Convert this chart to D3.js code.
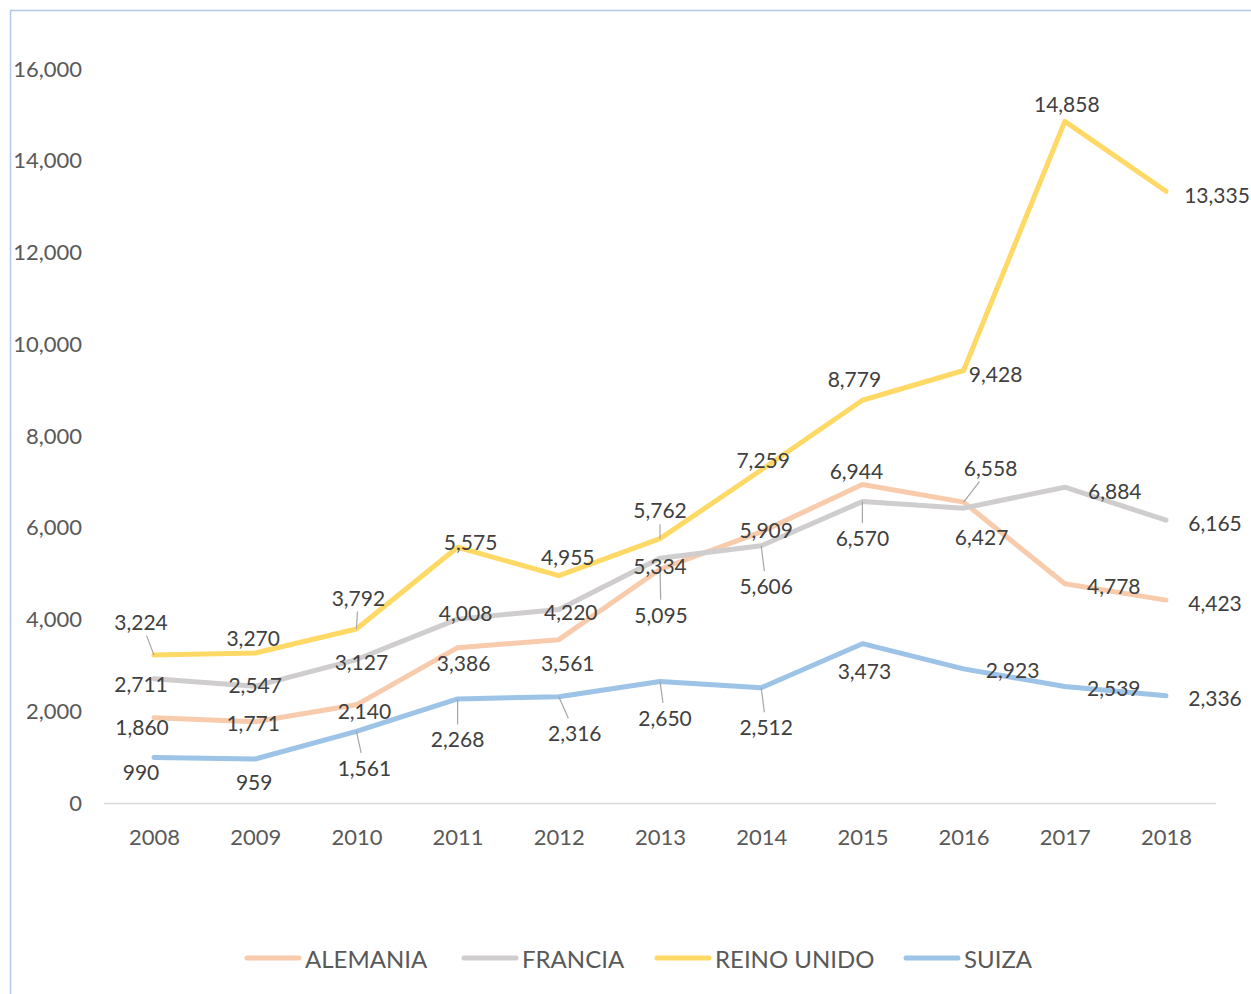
<!DOCTYPE html>
<html>
<head>
<meta charset="utf-8">
<title>Lines</title>
<script src="https://cdn.jsdelivr.net/npm/d3@7"></script>
<style>
	body { margin: 0; background: #fff; }
	svg { display: block; font-family: Lato, "Open Sans", sans-serif; }
</style>
</head>
<body>
<svg width="1251" height="994" class="chart"></svg>
<script>
// data
var years = [2008, 2009, 2010, 2011, 2012, 2013, 2014, 2015, 2016, 2017, 2018]
var alemania = [1860, 1771, 2140, 3386, 3561, 5095, 5909, 6944, 6558, 4778, 4423]
var francia = [2711, 2547, 3127, 4008, 4220, 5334, 5606, 6570, 6427, 6884, 6165]
var reinoUnido = [3224, 3270, 3792, 5575, 4955, 5762, 7259, 8779, 9428, 14858, 13335]
var suiza = [990, 959, 1561, 2268, 2316, 2650, 2512, 3473, 2923, 2539, 2336]
var seriesNames = ['ALEMANIA', 'FRANCIA', 'REINO UNIDO', 'SUIZA']
var yTicks = [0, 2000, 4000, 6000, 8000, 10000, 12000, 14000, 16000]

// label placement, offsets from the point: [dx, dy, leader]
var labelPos = {
	'ALEMANIA': [[-12,9,0],[-2,1,0],[8,6,0],[6,15,0],[9,23,0],[1,45,1],[5,-2,0],[-6,-14,0],[27,-35,1],[49,2,0],[49,2,0]],
	'FRANCIA': [[-13,5,0],[0,-2,0],[5,2,0],[8,-7,0],[12,2,0],[0,7,0],[5,40,1],[0,36,1],[18,28,0],[50,3,0],[49,2,0]],
	'REINO UNIDO': [[-13,-34,1],[-2,-15,0],[2,-32,1],[13,-6,0],[9,-19,0],[0,-29,1],[2,-10,0],[-8,-22,0],[32,3,0],[2,-18,0],[51,3,0]],
	'SUIZA': [[-13,14,0],[-1,22,0],[8,36,1],[0,40,1],[16,36,1],[5,36,1],[5,39,1],[2,27,0],[49,1,0],[49,1,0],[49,2,0]]
}

var colors = { 'ALEMANIA': '#F8CBAD', 'FRANCIA': '#CFCDCD', 'REINO UNIDO': '#FFD966', 'SUIZA': '#9DC3E6' }
var values = { 'ALEMANIA': alemania, 'FRANCIA': francia, 'REINO UNIDO': reinoUnido, 'SUIZA': suiza }

var svg = d3.select('.chart')

// outer frame (only left and top edges are visible)
svg.append('rect')
	.attr('x', 10.5).attr('y', 10.5)
	.attr('width', 1400).attr('height', 1200)
	.attr('fill', 'none').attr('stroke', '#B4C7E7').attr('stroke-width', 1.5)

var x = d3.scalePoint().domain(years).range([154, 1166])
var y = d3.scaleLinear().domain([0, 16000]).range([803, 69])

var fmt = d3.format(',')

// y axis labels
var yAxis = d3.axisLeft(y).tickValues(yTicks).tickFormat(fmt).tickSize(0).tickPadding(0)
var gy = svg.append('g').attr('transform', 'translate(82,0)').call(yAxis)
gy.select('.domain').remove()
gy.selectAll('text').attr('fill', '#595959').style('font-size', '22px').style('font-family', 'Lato')

// x axis
var xAxis = d3.axisBottom(x).tickSize(0).tickPadding(26)
var gx = svg.append('g').attr('transform', 'translate(0,803)').call(xAxis)
gx.select('.domain').remove()
gx.append('line').attr('x1', 104).attr('x2', 1216).attr('y1', 0.5).attr('y2', 0.5)
	.attr('stroke', '#D9D9D9').attr('stroke-width', 1.5)
gx.selectAll('text').attr('fill', '#595959').style('font-size', '22px').style('font-family', 'Lato')

var line = d3.line()
	.x(function(d, i) { return x(years[i]) })
	.y(function(d) { return y(d) })

seriesNames.forEach(function(name) {
	svg.append('path')
		.datum(values[name])
		.attr('d', line)
		.attr('fill', 'none')
		.attr('stroke', colors[name])
		.attr('stroke-width', 5)
		.attr('stroke-linejoin', 'round')
		.attr('stroke-linecap', 'round')
})

// data labels with leader lines
var gLab = svg.append('g')
seriesNames.forEach(function(name) {
	values[name].forEach(function(v, i) {
		var px = x(years[i]), py = y(v)
		var p = labelPos[name][i]
		var t = gLab.append('text')
			.attr('x', px + p[0]).attr('y', py + p[1])
			.attr('text-anchor', 'middle')
			.attr('dominant-baseline', 'central')
			.attr('fill', '#404040')
			.style('font-size', '21px')
			.text(fmt(v))
		if (p[2]) {
			var bb = t.node().getBBox()
			var hw = bb.width / 2 + 4, hh = bb.height / 2 + 2
			var cx = px + p[0], cy = py + p[1]
			var dx = px - cx, dy = py - cy
			var s = Math.min(Math.abs(dx) > 0 ? hw / Math.abs(dx) : 1e9, Math.abs(dy) > 0 ? hh / Math.abs(dy) : 1e9)
			gLab.insert('line', ':first-child')
				.attr('x1', px).attr('y1', py)
				.attr('x2', cx + dx * s).attr('y2', cy + dy * s)
				.attr('stroke', '#A6A6A6').attr('stroke-width', 1.2)
		}
	})
})

// legend
var legendX = [245, 462, 655, 904]
var gLeg = svg.append('g').attr('transform', 'translate(0,958)')
seriesNames.forEach(function(name, i) {
	gLeg.append('line')
		.attr('x1', legendX[i] + 2).attr('x2', legendX[i] + 54)
		.attr('stroke', colors[name]).attr('stroke-width', 5).attr('stroke-linecap', 'round')
	gLeg.append('text')
		.attr('x', legendX[i] + 60).attr('y', 0)
		.attr('dominant-baseline', 'central')
		.attr('fill', '#595959')
		.style('font-size', '24px')
		.text(name)
})
</script>
</body>
</html>
